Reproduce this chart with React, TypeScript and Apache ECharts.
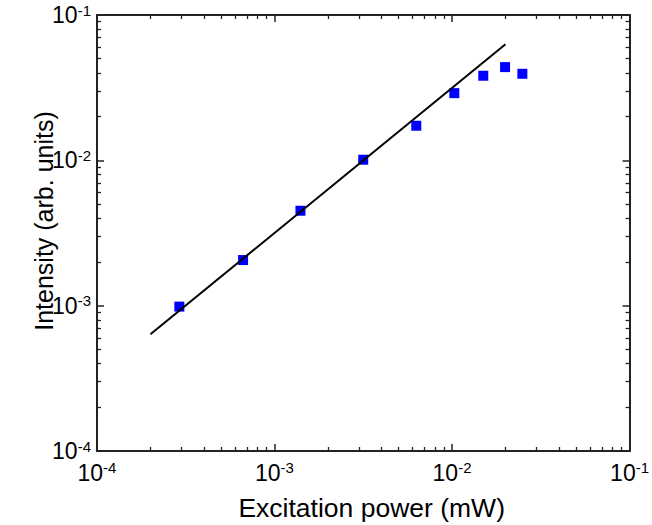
import React, { useEffect, useRef } from 'react';
import * as echarts from 'echarts';

const powerX = [2.91e-4, 6.65e-4, 1.4e-3, 3.16e-3, 6.29e-3, 1.03e-2, 1.5e-2, 1.99e-2, 2.49e-2];
const intensityY = [9.85e-4, 2.06e-3, 4.5e-3, 1.01e-2, 1.73e-2, 2.9e-2, 3.82e-2, 4.38e-2, 3.94e-2];
// Power-law fit line (slope ~1)
const fitX = [2.0e-4, 2.0e-2];
const fitY = [6.35e-4, 6.3e-2];

// Axis range
const axisMin = 1e-4;
const axisMax = 1e-1;

const FONT = '"Liberation Sans", Arial, Helvetica, sans-serif';
const AXIS_COLOR = '#222';

const labelFormatter = (v: number) => {
  const e = Math.round(Math.log10(v));
  return `{b|10}{s|${e}}`;
};

const rich = {
  b: { fontSize: 23, fontFamily: FONT, color: '#000', lineHeight: 25 },
  s: { fontSize: 15, fontFamily: FONT, color: '#000', verticalAlign: 'top', lineHeight: 15 },
};

function logAxis(position: string, showLabel: boolean, margin: number) {
  return {
    type: 'log',
    logBase: 10,
    position,
    min: axisMin,
    max: axisMax,
    axisLine: { show: true, onZero: false, lineStyle: { color: AXIS_COLOR, width: 2 } },
    axisTick: { show: true, inside: true, length: 7, lineStyle: { color: AXIS_COLOR, width: 1.5 } },
    minorTick: { show: true, splitNumber: 9, length: 4, lineStyle: { color: AXIS_COLOR, width: 1.3 } },
    axisLabel: {
      show: showLabel,
      margin,
      fontSize: 23,
      fontFamily: FONT,
      color: '#000',
      formatter: labelFormatter,
      rich,
    },
    splitLine: { show: false },
    minorSplitLine: { show: false },
  };
}

export default function App() {
  const ref = useRef<HTMLDivElement>(null);

  useEffect(() => {
    if (!ref.current) return;
    const chart = echarts.init(ref.current, undefined, { renderer: 'svg' });
    const option: any = {
      animation: false,
      backgroundColor: '#fff',
      grid: { left: 97, right: 19, top: 15, bottom: 74, containLabel: false },
      xAxis: [logAxis('bottom', true, 9), logAxis('top', false, 8)],
      yAxis: [logAxis('left', true, 6), logAxis('right', false, 8)],
      series: [
        {
          type: 'scatter',
          xAxisIndex: 0,
          yAxisIndex: 0,
          symbol: 'rect',
          symbolSize: 10,
          itemStyle: { color: '#0000ff', opacity: 1 },
          data: powerX.map((x, i) => [x, intensityY[i]]),
          z: 2,
        },
        {
          type: 'line',
          xAxisIndex: 0,
          yAxisIndex: 0,
          symbol: 'none',
          lineStyle: { color: '#000', width: 2 },
          data: fitX.map((x, i) => [x, fitY[i]]),
          z: 3,
        },
      ],
      graphic: [
        {
          type: 'text',
          x: 371.7,
          y: 508,
          style: {
            text: 'Excitation power (mW)',
            fontSize: 26.5,
            fontFamily: FONT,
            fill: '#000',
            textAlign: 'center',
            textVerticalAlign: 'middle',
          },
        },
        {
          type: 'text',
          x: 43.5,
          y: 221,
          rotation: Math.PI / 2,
          style: {
            text: 'Intensity (arb. units)',
            fontSize: 25,
            fontFamily: FONT,
            fill: '#000',
            textAlign: 'center',
            textVerticalAlign: 'middle',
          },
        },
      ],
    };
    chart.setOption(option);
    return () => chart.dispose();
  }, []);

  return (
    <div
      ref={ref}
      style={{ position: 'absolute', left: 0, top: 0, width: 652, height: 525, background: '#fff' }}
    />
  );
}
